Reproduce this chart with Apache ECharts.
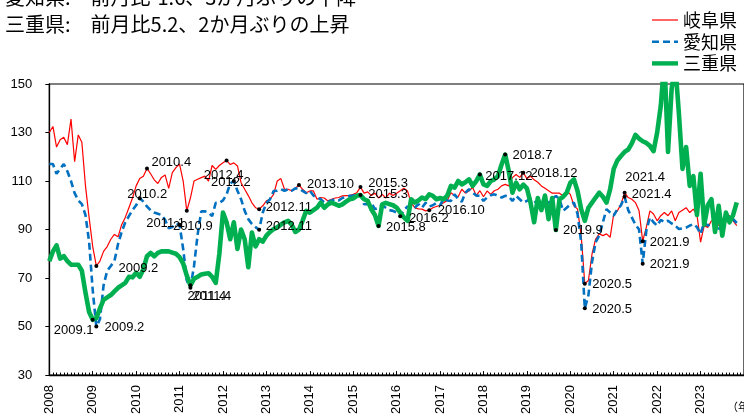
<!DOCTYPE html>
<html><head><meta charset="utf-8">
<script src="https://cdn.jsdelivr.net/npm/echarts/dist/echarts.min.js"></script>
<style>html,body{margin:0;padding:0;background:#fff;}#c{width:744px;height:417px;}</style>
</head><body><div id="c"></div>
<script>
// ---- data (monthly index 0 = 2008.1) ----
const yearLabels = ['2008','2009','2010','2011','2012','2013','2014','2015','2016','2017','2018','2019','2020','2021','2022','2023'];
const seriesNames = ['岐阜県','愛知県','三重県'];
const titleLines = ['愛知県:　前月比-1.6、3か月ぶりの下降','三重県:　前月比5.2、2か月ぶりの上昇'];
const axisUnit = '（年）';

const gifu = [
 130,132.5,124,127,128,125,135.5,118,129,126,108,95,
 83,75,77,81,83,86,88,87,92,95,99,103,
 108,111,112,115.2,113,110.5,109,111.5,112.5,107,113.5,115.5,
 117,110,97.7,103,110,110.7,111.4,112,110,116.4,114.8,116.4,
 117.5,118.5,116.8,117.5,116.2,109.3,106.6,104,101,99,98.4,99.8,
 101.8,102.5,104.5,110,111,106.6,106.6,106,107,108.4,106.6,105.2,
 105.9,105.9,102.5,103.2,103,101.8,102.5,103,103.2,103.9,104,104,
 104.5,105.2,107.5,105,105.5,104,105,103,104.5,103,105,104,
 105,106,107,105.9,101,99,98.5,98.4,97.7,98,99,99.5,
 100,101.1,102,105.2,104,103.5,106.6,105,106,107.3,104,106,
 103.5,105.9,104.5,106,106.6,108,108.6,108,111.4,112.7,111.5,113.4,
 111,112,110.5,109.5,108,107,106,105,105,105,103.9,106,
 104.5,99.8,98.4,87.5,67.7,69,80,86.1,88.2,87.5,88.2,86.8,
 96.4,97.7,100.4,105.2,103.2,102.5,101.1,97.7,85.2,90.9,97.7,96.4,
 93.6,95.7,97,95.7,97.7,93.6,97,98,99,97,98.4,96,
 84.8,91.6,90.9,93.6,93,91.6,94,96.4,95.7,93.6,91.6
];
const aichi = [
 117,117,113,115,117,114,110,105,102,100.5,96,85,
 65,50,53,67,73,75,77,84,89,93,95.5,98,
 100,102.9,101.5,99.5,98,97,96.5,96,94,90.5,91,92.5,
 92,82,69,66,75,88,97.5,97.5,97,95.5,101,101,
 102,104.5,109,110,106,102.5,97.7,94.3,92.3,91,89.9,97,
 101,102.5,105.9,106,106.6,106,106.6,106,107,106.9,105.9,105,
 106,104,103.2,102.5,101.1,101.5,102,102.5,102,103,103.5,103.9,
 104,104.5,104.5,100.4,100.4,101,98.4,99,100,99,98,97.7,
 97,95.5,98,99.5,98.5,99,100.5,99,101,99.5,100,101,
 100,102.8,102,101.8,104.5,102.5,101.5,105.2,106.6,105.2,104,103.9,
 101.8,103.2,104.1,104.5,103.9,103.2,103.9,103.6,101.8,103.9,102.5,101.1,
 101.8,102.8,101.8,100.5,101.1,100.5,101.1,102.5,103.9,102.5,97.7,99,
 100.4,101.1,96.4,84.8,57.5,62.9,76.6,84.8,87.5,93,98.4,97,
 95.7,98.4,100,103.5,98,95,92,90,75.9,89.5,95,93,
 91.6,94,93,93.6,92.5,91.6,90.2,90.5,90.8,91.6,92.3,91,
 88.2,93,91.6,92.5,93.6,90.2,92,94.3,95.7,94.3,92.7
];
const mie = [
 77,81,83.5,78,79,77,75.5,75.5,75.5,73,64,56,
 52.8,53.5,57.5,61,62,63,64.5,66,67,68,70.5,70.3,
 72.2,70.5,73.6,79,80.4,79,80.4,81,81,81,80.5,80,
 78.6,76,71,67,69.7,70.5,71.5,71.8,72,70.5,68,80,
 97,93,86,93,82,90,86,74.5,88.8,83,86,85,
 87.5,89,90.2,90.9,92,93,93.6,92,89,90,93.6,97.7,
 97,98,99,101.1,99,100.4,101.1,100.5,99.8,100.4,101.5,102.5,
 102.8,103.9,104.2,102.5,101.8,98.4,96,91.5,100.4,101,100.5,100,
 99,97,95,93.6,102.5,101.1,102,103.2,102.5,104.5,103.9,102.5,
 103,102.5,104,108,107.3,110,108.6,109.5,110.7,108,110,112.7,
 108.6,108,110,110.7,112,116.8,120.9,114,105.2,109.3,106.6,108.5,
 107,101.1,93,103,98,104,94.3,103,89.8,102.5,103.5,105.2,
 109.3,110.7,105.9,98.4,93.6,99,101.1,103.2,105.2,103.5,101.1,106.6,
 115,118.5,120.3,122,123,125.5,129,127.5,126.4,125.7,124.5,122.3,
 130,141,160,122,148,158,138,115,124,108,112,96,
 113,92,100,102.5,89,99.8,87.5,97,93,96,101.2
];
// annotated points: [series, month index, label, label dx, label dy]
const annotations = [
 ['mie',12,'2009.1',-19,11],
 ['aichi',13,'2009.2',28,1],
 ['gifu',13,'2009.2',42,2.5],
 ['aichi',25,'2010.2',7.5,-4],
 ['gifu',27,'2010.4',24.3,-6.4],
 ['aichi',36,'2011.1',-14,-1.5],
 ['gifu',38,'2010.9',6,15.5],
 ['mie',39,'2011.4',16.5,11],
 ['aichi',39,'2011.4',21.5,8.5],
 ['gifu',49,'2012.4',-3,15],
 ['aichi',51,'2012.2',-3,1.6],
 ['gifu',58,'2012.11',29.7,-1.8],
 ['aichi',58,'2012.11',29.7,-3.8],
 ['gifu',69,'2013.10',31.6,-0.7],
 ['gifu',86,'2015.3',27.6,-4],
 ['mie',86,'2015.3',27.6,-1],
 ['mie',91,'2015.8',27.4,1.5],
 ['aichi',97,'2016.2',28.5,2],
 ['gifu',105,'2016.10',32,0],
 ['mie',119,'2017.12',29,1.6],
 ['mie',126,'2018.7',27.3,1],
 ['gifu',131,'2018.12',30.6,1],
 ['mie',140,'2019.9',27,0.6],
 ['gifu',148,'2020.5',27.4,0.5],
 ['aichi',148,'2020.5',27.4,1.3],
 ['gifu',159,'2021.4',20.5,-15],
 ['aichi',159,'2021.4',27,-2.5],
 ['gifu',164,'2021.9',27,1],
 ['aichi',164,'2021.9',27,0.7]
];

// ---- chart ----
const dataMap = {gifu: gifu, aichi: aichi, mie: mie};
const LF = 'Liberation Sans, Arial, sans-serif';
const JF = '"Noto Sans CJK JP", sans-serif';
function pts(arr){ return arr.map((v,i)=>[i,v]); }
function marks(key){
  const arr = dataMap[key];
  return {
    symbol:'circle', symbolSize:4, silent:true, animation:false,
    itemStyle:{color:'#000'},
    label:{show:true, position:'inside', color:'#000', fontSize:13, fontFamily:LF},
    data: annotations.filter(a=>a[0]===key).map(a=>({
      coord:[a[1], arr[a[1]]],
      label:{formatter:a[2], offset:[a[3], a[4]]}
    }))
  };
}
const chart = echarts.init(document.getElementById('c'), null, {renderer:'canvas'});
chart.setOption({
  animation:false,
  backgroundColor:'#fff',
  grid:{left:49.3, right:-5, top:84, bottom:40, show:true, borderColor:'#000', borderWidth:1.2, backgroundColor:'transparent'},
  xAxis:{
    type:'value', min:0, max:192, interval:12,
    axisLine:{show:true, onZero:false, lineStyle:{color:'#000', width:1.3}},
    axisTick:{show:true, inside:true, length:4, lineStyle:{color:'#000', width:1}},
    minorTick:{show:true, splitNumber:12, length:2.5, lineStyle:{color:'#000', width:1}},
    splitLine:{show:false}, minorSplitLine:{show:false},
    axisLabel:{rotate:90, margin:10, fontSize:13, fontFamily:LF, color:'#000', showMaxLabel:false,
      formatter:function(v){ const k=Math.round(v/12); return (v%12===0 && k<yearLabels.length)? yearLabels[k] : ''; }}
  },
  yAxis:{
    type:'value', min:30, max:150, interval:20,
    axisLine:{show:true, onZero:false, lineStyle:{color:'#000', width:1.3}},
    axisTick:{show:true, length:4, lineStyle:{color:'#000'}},
    splitLine:{show:false},
    axisLabel:{margin:17, fontSize:13, fontFamily:LF, color:'#000'}
  },
  legend:{
    orient:'vertical', right:2, top:6, align:'left',
    itemWidth:26, itemHeight:12, itemGap:3.7,
    textStyle:{fontSize:18, fontFamily:JF, color:'#000'},
    itemStyle:{opacity:0},
    data:[
      {name:seriesNames[0], lineStyle:{width:1.2, color:'#FF0000'}},
      {name:seriesNames[1], lineStyle:{width:2.6, color:'#0070C0', type:[7,4]}},
      {name:seriesNames[2], lineStyle:{width:4.4, color:'#00B050'}}
    ]
  },
  series:[
    {name:seriesNames[0], type:'line', data:pts(gifu), symbol:'none', showSymbol:false, z:2,
      lineStyle:{color:'#FF0000', width:1.2}, itemStyle:{color:'#FF0000'}, markPoint:marks('gifu')},
    {name:seriesNames[1], type:'line', data:pts(aichi), symbol:'none', showSymbol:false, z:3,
      lineStyle:{color:'#0070C0', width:2.6, type:[7,4]}, itemStyle:{color:'#0070C0'}, markPoint:marks('aichi')},
    {name:seriesNames[2], type:'line', data:pts(mie), symbol:'none', showSymbol:false, z:4,
      lineStyle:{color:'#00B050', width:4.6, join:'round'}, itemStyle:{color:'#00B050'}, markPoint:marks('mie')}
  ],
  graphic:[
    {type:'text', x:5, y:-3, silent:true, style:{text:titleLines[0], font:'20px '+JF, fill:'#000', verticalAlign:'middle'}},
    {type:'text', x:5, y:24, silent:true, style:{text:titleLines[1], font:'20px '+JF, fill:'#000', verticalAlign:'middle'}},
    {type:'text', x:727, y:407, silent:true, style:{text:axisUnit, font:'11px '+JF, fill:'#000', verticalAlign:'middle'}}
  ]
});
</script>
</body></html>
